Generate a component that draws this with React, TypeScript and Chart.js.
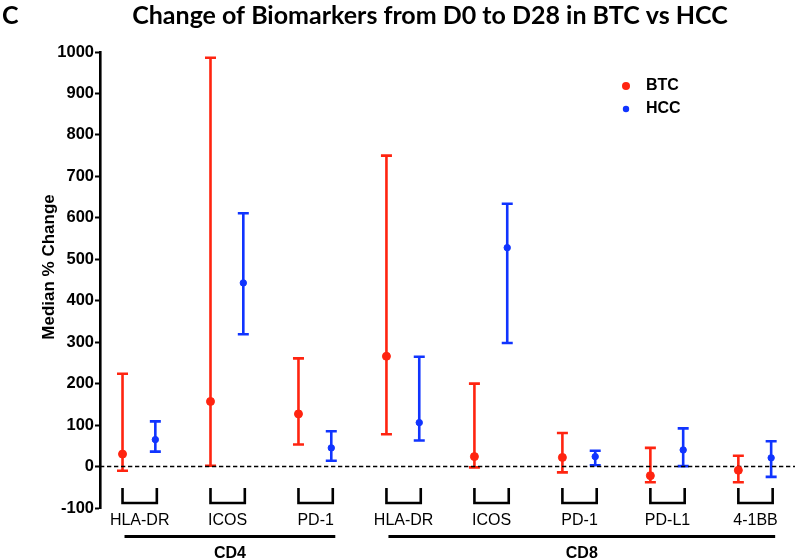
import React, { useEffect, useRef } from "react";
import { Chart, registerables } from "chart.js";

Chart.register(...registerables);

const markers = ["HLA-DR", "ICOS", "PD-1", "HLA-DR", "ICOS", "PD-1", "PD-L1", "4-1BB"];
const groups = [
  { name: "CD4", from: 0, to: 2 },
  { name: "CD8", from: 3, to: 7 },
];
const btcMedian = [30, 157, 127, 266, 24, 22, -22, -9];
const btcLow = [-10, 2, 53, 78, -2, -14, -38, -38];
const btcHigh = [224, 986, 261, 750, 200, 81, 45, 26];
const hccMedian = [65, 443, 45, 106, 528, 24, 40, 21];
const hccLow = [36, 319, 14, 63, 298, 3, 1, -25];
const hccHigh = [109, 611, 85, 265, 634, 38, 92, 61];
const yTicks = { min: -100, max: 1000, step: 100 };
const seriesNames = ["BTC", "HCC"];
const titleText = "Change of Biomarkers from D0 to D28 in BTC vs HCC";
const panelLabel = "C";
const yTitle = "Median % Change";

const RED = "#FF2410";
const BLUE = "#1034FF";
const HCC_OFFSET = 0.373;
const SANS = "'Liberation Sans', Arial, Helvetica, sans-serif";

export default function App() {
  const ref = useRef<HTMLCanvasElement>(null);

  useEffect(() => {
    const canvas = ref.current!;
    const btcPts = btcMedian.map((v, i) => ({ x: i, y: v }));
    const hccPts = hccMedian.map((v, i) => ({ x: i + HCC_OFFSET, y: v }));

    const errorBars = {
      id: "errorBars",
      beforeDatasetsDraw(chart: any) {
        const { ctx, scales } = chart;
        const xs = scales.x;
        const ys = scales.y;
        const sets = [
          { lo: btcLow, hi: btcHigh, off: 0, color: RED },
          { lo: hccLow, hi: hccHigh, off: HCC_OFFSET, color: BLUE },
        ];
        ctx.save();
        for (const s of sets) {
          ctx.strokeStyle = s.color;
          ctx.lineWidth = 2.6;
          s.lo.forEach((lo, i) => {
            const x = xs.getPixelForValue(i + s.off);
            const y1 = ys.getPixelForValue(lo);
            const y2 = ys.getPixelForValue(s.hi[i]);
            ctx.beginPath();
            ctx.moveTo(x, y1);
            ctx.lineTo(x, y2);
            ctx.moveTo(x - 5.5, y1);
            ctx.lineTo(x + 5.5, y1);
            ctx.moveTo(x - 5.5, y2);
            ctx.lineTo(x + 5.5, y2);
            ctx.stroke();
          });
        }
        const y0 = ys.getPixelForValue(0);
        ctx.strokeStyle = "#000";
        ctx.lineWidth = 1.5;
        ctx.setLineDash([4.3, 2.7]);
        ctx.beginPath();
        ctx.moveTo(chart.chartArea.left, y0);
        ctx.lineTo(chart.chartArea.right, y0);
        ctx.stroke();
        ctx.setLineDash([]);
        ctx.restore();
      },
      afterDraw(chart: any) {
        const { ctx, scales } = chart;
        const xs = scales.x;
        ctx.save();
        ctx.fillStyle = "#000";
        ctx.textBaseline = "alphabetic";
        ctx.font = "bold 25px Lato";
        ctx.textAlign = "center";
        ctx.fillText(titleText, 430, 24);
        ctx.textAlign = "left";
        ctx.fillText(panelLabel, 2, 24);
        // y-axis title
        ctx.save();
        ctx.translate(49, 267);
        ctx.rotate(-Math.PI / 2);
        ctx.font = "bold 17px " + SANS;
        ctx.textAlign = "center";
        ctx.textBaseline = "middle";
        ctx.fillText(yTitle, 0, 0);
        ctx.restore();
        const legendColors = [RED, BLUE];
        const legendR = [4, 3.2];
        seriesNames.forEach((n, k) => {
          const ly = 86 + k * 23;
          ctx.fillStyle = legendColors[k];
          ctx.beginPath();
          ctx.arc(626, ly, legendR[k], 0, Math.PI * 2);
          ctx.fill();
          ctx.fillStyle = "#000";
          ctx.font = "bold 16px " + SANS;
          ctx.textBaseline = "middle";
          ctx.textAlign = "left";
          ctx.fillText(n, 646, ly);
        });
        ctx.strokeStyle = "#000";
        ctx.lineWidth = 2.6;
        markers.forEach((m, i) => {
          const xl = xs.getPixelForValue(i);
          const xr = xs.getPixelForValue(i + HCC_OFFSET) + 1.5;
          ctx.beginPath();
          ctx.moveTo(xl, 488);
          ctx.lineTo(xl, 503);
          ctx.lineTo(xr, 503);
          ctx.lineTo(xr, 488);
          ctx.stroke();
          ctx.fillStyle = "#000";
          ctx.font = "16px " + SANS;
          ctx.textAlign = "center";
          ctx.textBaseline = "alphabetic";
          ctx.fillText(m, (xl + xr) / 2, 525);
        });
        groups.forEach((g) => {
          const xl = xs.getPixelForValue(g.from) + 2;
          const xr = xs.getPixelForValue(g.to + HCC_OFFSET) + 4;
          ctx.lineWidth = 3;
          ctx.beginPath();
          ctx.moveTo(xl, 536.5);
          ctx.lineTo(xr, 536.5);
          ctx.stroke();
          ctx.font = "bold 16px " + SANS;
          ctx.textAlign = "center";
          ctx.textBaseline = "alphabetic";
          ctx.fillText(g.name, (xl + xr) / 2, 558);
        });
        ctx.restore();
      },
    };

    const chart = new Chart(canvas, {
      type: "scatter",
      data: {
        datasets: [
          {
            label: seriesNames[0],
            data: btcPts,
            backgroundColor: RED,
            borderColor: RED,
            pointRadius: 4,
            pointHoverRadius: 4,
          },
          {
            label: seriesNames[1],
            data: hccPts,
            backgroundColor: BLUE,
            borderColor: BLUE,
            pointRadius: 3.2,
            pointHoverRadius: 3.2,
          },
        ],
      },
      options: {
        responsive: false,
        animation: false,
        devicePixelRatio: 1,
        layout: { padding: { top: 52, bottom: 51, left: 0, right: 0 } },
        plugins: {
          legend: { display: false },
          title: { display: false },
          tooltip: { enabled: false },
        },
        scales: {
          x: {
            type: "linear",
            display: false,
            min: -0.256,
            max: 7.644,
          },
          y: {
            type: "linear",
            min: yTicks.min,
            max: yTicks.max,
            afterFit(scale: any) {
              scale.width = 100;
            },
            ticks: {
              stepSize: yTicks.step,
              color: "#000",
              padding: 1,
              callback: (v: any) => String(v),
              font: { family: SANS, size: 16.5, weight: "bold" },
            },
            grid: {
              display: true,
              drawOnChartArea: false,
              drawTicks: true,
              tickLength: 5,
              tickWidth: 2,
              tickColor: "#000",
            },
            border: { display: true, color: "#000", width: 2.6 },
            title: { display: false },
          },
        },
      },
      plugins: [errorBars],
    });
    return () => chart.destroy();
  }, []);

  return (
    <div style={{ position: "fixed", left: 0, top: 0, width: 800, height: 559, background: "#fff" }}>
      <canvas ref={ref} width={800} height={559} style={{ display: "block" }} />
    </div>
  );
}
